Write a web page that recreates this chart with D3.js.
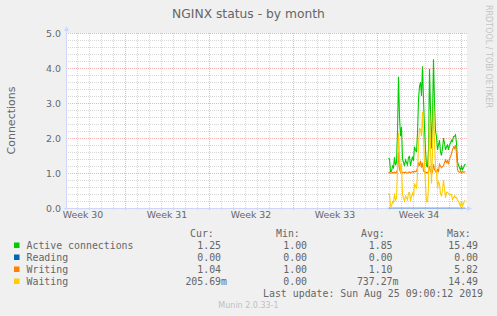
<!DOCTYPE html>
<html>
<head>
<meta charset="utf-8">
<script src="https://cdn.jsdelivr.net/npm/d3@7"></script>
<style>
  body { margin: 0; background: #f0f0f0; }
  svg { display: block; }
  text { font-family: "DejaVu Sans", sans-serif; fill: #666; }
  .mono { font-family: "DejaVu Sans Mono", monospace; font-size: 9.9px; white-space: pre; }
</style>
</head>
<body>
<div id="chart"></div>
<script>
var w = 497, h = 316;

// series, one value per 2h step starting Aug 18 22:00
var startTime = Date.UTC(2019, 7, 18, 22);
var stepMs = 2 * 3600 * 1000;

var active = [
  1.42,1.40,1.04,1.05,1.20,1.15,1.45,1.22,1.30,2.20,
  3.75,2.60,2.05,2.32,1.40,1.30,1.20,1.37,1.30,1.23,
  1.45,1.47,1.20,1.35,1.47,1.35,1.75,1.66,1.60,2.14,
  3.10,3.47,3.60,3.20,4.05,3.09,2.30,1.66,1.20,1.18,
  1.66,3.98,2.80,1.70,2.60,4.25,3.00,2.20,2.04,1.66,
  1.80,1.94,1.60,1.50,1.70,2.00,1.85,1.66,1.75,1.80,
  1.66,1.80,1.85,1.94,1.90,2.04,2.05,2.09,1.85,1.32,
  1.23,1.15,1.09,1.20,1.10,1.15,1.23,1.25];

var reading = [
  0,0,0,0,0,0,0,0,0,0, 0,0,0,0,0,0,0,0,0,0,
  0,0,0,0,0,0,0,0,0,0, 0,0,0,0,0,0,0,0,0,0,
  0,0,0,0,0,0,0,0,0,0, 0,0,0,0,0,0,0,0,0,0,
  0,0,0,0,0,0,0,0,0,0, 0,0,0,0,0,0,0,0];

var writing = [
  1.00,1.02,0.99,1.00,1.02,1.00,1.03,1.00,1.02,1.10,
  1.60,1.10,1.02,1.05,1.00,1.02,1.00,1.03,1.00,1.00,
  1.02,1.03,1.00,1.02,1.04,1.02,1.05,1.04,1.05,1.15,
  1.30,1.20,1.35,1.15,1.30,1.05,1.05,1.00,1.02,1.00,
  1.05,1.20,1.05,1.00,1.02,1.25,1.10,1.05,1.00,1.10,
  1.05,1.25,1.20,1.15,1.18,1.20,1.30,1.37,1.30,1.35,
  1.25,1.40,1.47,1.55,1.66,1.75,1.70,1.80,1.55,1.09,
  1.04,1.02,1.05,1.00,1.04,1.02,1.03,1.04];

var waiting = [
  0.42,0.38,0.05,0.05,0.18,0.15,0.42,0.22,0.28,1.10,
  2.15,1.50,1.03,1.27,0.40,0.28,0.20,0.34,0.30,0.23,
  0.43,0.44,0.20,0.33,0.43,0.33,0.70,0.62,0.55,0.99,
  1.80,2.27,2.25,2.05,2.75,2.04,1.25,0.66,0.18,0.18,
  0.61,2.78,1.75,0.70,1.58,3.00,1.90,1.15,1.04,0.56,
  0.75,0.69,0.40,0.35,0.52,0.80,0.55,0.29,0.45,0.45,
  0.41,0.40,0.38,0.39,0.24,0.29,0.35,0.29,0.30,0.23,
  0.19,0.13,0.04,0.20,0.06,0.13,0.20,0.21];

var seriesNames = ["Active connections", "Reading", "Writing", "Waiting"];
var seriesColors = ["#00cc00", "#0066b3", "#ff8000", "#ffcc00"];
var curVals = ["1.25 ", "0.00 ", "1.04 ", "205.69m"];
var minVals = ["1.00 ", "0.00 ", "1.00 ", "0.00 "];
var avgVals = ["1.85 ", "0.00 ", "1.10 ", "737.27m"];
var maxVals = ["15.49 ", "0.00 ", "5.82 ", "14.49 "];

var yTicks = [0, 1, 2, 3, 4, 5];
var weekLabels = ["Week 30", "Week 31", "Week 32", "Week 33", "Week 34"];
var weekMids = [Date.UTC(2019,6,24,12), Date.UTC(2019,6,31,12), Date.UTC(2019,7,7,12),
                Date.UTC(2019,7,14,12), Date.UTC(2019,7,21,12)];

var gLeft = 66, gRight = 467, gTop = 33, gBottom = 208;

var svg = d3.select("#chart").append("svg")
  .attr("width", w)
  .attr("height", h);

svg.append("rect").attr("width", w).attr("height", h).attr("fill", "#f0f0f0");

var xScale = d3.scaleUtc()
  .domain([new Date(Date.UTC(2019,6,23,2)), new Date(Date.UTC(2019,7,25,12))])
  .range([gLeft, gRight]);

var yScale = d3.scaleLinear()
  .domain([0, 5])
  .range([gBottom, gTop]);

// canvas
svg.append("rect")
  .attr("x", gLeft).attr("y", gTop)
  .attr("width", gRight - gLeft).attr("height", gBottom - gTop)
  .attr("fill", "#fff");

var grid = svg.append("g").attr("shape-rendering", "crispEdges");
var minorColor = "#d6d6d6", majorColor = "#f2b4b4";

// minor horizontal grid every 0.2
var minorY = d3.range(0, 5.01, 0.2).filter(function(v) { return Math.abs(v - Math.round(v)) > 0.01; });
grid.selectAll(".hmin")
  .data(minorY).enter().append("line")
  .attr("x1", gLeft).attr("x2", gRight)
  .attr("y1", function(d) { return Math.round(yScale(d)) + 0.5; })
  .attr("y2", function(d) { return Math.round(yScale(d)) + 0.5; })
  .attr("stroke", minorColor).attr("stroke-dasharray", "1,1");

// minor vertical grid, daily
var days = d3.utcDay.range(xScale.domain()[0], xScale.domain()[1]);
grid.selectAll(".vmin")
  .data(days).enter().append("line")
  .attr("x1", function(d) { return Math.round(xScale(d)) + 0.5; })
  .attr("x2", function(d) { return Math.round(xScale(d)) + 0.5; })
  .attr("y1", gTop).attr("y2", gBottom + 2)
  .attr("stroke", minorColor).attr("stroke-dasharray", "1,1");

// major grid
grid.selectAll(".hmaj")
  .data(yTicks.slice(1)).enter().append("line")
  .attr("x1", gLeft).attr("x2", gRight)
  .attr("y1", function(d) { return Math.round(yScale(d)) + 0.5; })
  .attr("y2", function(d) { return Math.round(yScale(d)) + 0.5; })
  .attr("stroke", majorColor).attr("stroke-dasharray", "1,1");

var weeks = d3.utcSunday.range(xScale.domain()[0], xScale.domain()[1]);
grid.selectAll(".vmaj")
  .data(weeks).enter().append("line")
  .attr("x1", function(d) { return Math.round(xScale(d)) + 0.5; })
  .attr("x2", function(d) { return Math.round(xScale(d)) + 0.5; })
  .attr("y1", gTop).attr("y2", gBottom + 3)
  .attr("stroke", majorColor).attr("stroke-dasharray", "1,1");

// axes
var axisColor = "#cfd6f8";
svg.append("line")
  .attr("x1", gLeft + 0.5).attr("x2", gLeft + 0.5)
  .attr("y1", gBottom + 1).attr("y2", gTop - 4)
  .attr("stroke", axisColor).attr("shape-rendering", "crispEdges");
svg.append("path")
  .attr("d", "M" + (gLeft - 2) + "," + (gTop - 2) + "L" + (gLeft + 0.5) + "," + (gTop - 7) + "L" + (gLeft + 3) + "," + (gTop - 2) + "Z")
  .attr("fill", axisColor);
svg.append("line")
  .attr("x1", gLeft - 2).attr("x2", gRight + 1)
  .attr("y1", gBottom + 0.5).attr("y2", gBottom + 0.5)
  .attr("stroke", axisColor).attr("shape-rendering", "crispEdges");
svg.append("path")
  .attr("d", "M" + (gRight) + "," + (gBottom - 2) + "L" + (gRight + 5) + "," + (gBottom + 0.5) + "L" + (gRight) + "," + (gBottom + 3) + "Z")
  .attr("fill", axisColor);

// y tick labels
svg.selectAll(".ylab")
  .data(yTicks).enter().append("text")
  .attr("x", 61)
  .attr("y", function(d) { return yScale(d) + 3.5; })
  .attr("text-anchor", "end")
  .style("font-size", "9.4px")
  .text(function(d) { return d3.format(".1f")(d); });

// x week labels
svg.selectAll(".xlab")
  .data(weekLabels).enter().append("text")
  .attr("x", function(d, i) { return xScale(new Date(weekMids[i])); })
  .attr("y", 217.5)
  .attr("text-anchor", "middle")
  .style("font-size", "9.4px")
  .text(function(d) { return d; });

// data lines
var allSeries = [active, reading, writing, waiting];
var line = d3.line()
  .x(function(d, i) { return xScale(new Date(startTime + i * stepMs)) + 0.5; })
  .y(function(d) { return yScale(d); });

svg.append("g").selectAll("path")
  .data(allSeries).enter().append("path")
  .attr("d", function(d) { return line(d); })
  .attr("fill", "none")
  .attr("stroke", function(d, i) { return seriesColors[i]; })
  .attr("stroke-opacity", function(d, i) { return i === 1 ? 0.55 : 1; })
  .attr("stroke-width", 1.1);

// titles
svg.append("text")
  .attr("x", 248.5).attr("y", 18.3)
  .attr("text-anchor", "middle")
  .style("font-size", "12.3px")
  .text("NGINX status - by month");

svg.append("text")
  .attr("transform", "translate(15," + ((gTop + gBottom) / 2) + ") rotate(-90)")
  .attr("text-anchor", "middle")
  .style("font-size", "11px")
  .text("Connections");

svg.append("text")
  .attr("transform", "translate(485.5,5) rotate(90)")
  .style("font-size", "8px")
  .style("fill", "#c4c4c4")
  .text("RRDTOOL / TOBI OETIKER");

// legend
var legendY0 = 249.3, rowH = 12;
var colHeads = [["Cur:", 190], ["Min:", 276], ["Avg:", 361], ["Max:", 447]];
svg.selectAll(".head")
  .data(colHeads).enter().append("text")
  .attr("class", "mono")
  .attr("x", function(d) { return d[1]; })
  .attr("y", legendY0 - rowH)
  .text(function(d) { return d[0]; });

var legendRows = svg.selectAll(".lrow")
  .data(seriesNames).enter().append("g");

legendRows.append("rect")
  .attr("x", 14).attr("y", function(d, i) { return 242.5 + i * rowH; })
  .attr("width", 5.5).attr("height", 5.5)
  .attr("fill", function(d, i) { return seriesColors[i]; });

legendRows.append("text")
  .attr("class", "mono")
  .attr("x", 26.5)
  .attr("y", function(d, i) { return legendY0 + i * rowH; })
  .text(function(d) { return d; });

var valueCols = [[curVals, 227], [minVals, 313], [avgVals, 398.5], [maxVals, 484]];
valueCols.forEach(function(col) {
  legendRows.append("text")
    .attr("class", "mono")
    .attr("x", col[1])
    .attr("y", function(d, i) { return legendY0 + i * rowH; })
    .attr("text-anchor", "end")
    .text(function(d, i) { return col[0][i]; });
});

svg.append("text")
  .attr("class", "mono")
  .attr("x", 483).attr("y", legendY0 + 4 * rowH)
  .attr("text-anchor", "end")
  .text("Last update: Sun Aug 25 09:00:12 2019");

svg.append("text")
  .attr("x", 248.5).attr("y", 307.7)
  .attr("text-anchor", "middle")
  .style("font-size", "8px")
  .style("fill", "#c0c0c0")
  .text("Munin 2.0.33-1");
</script>
</body>
</html>
